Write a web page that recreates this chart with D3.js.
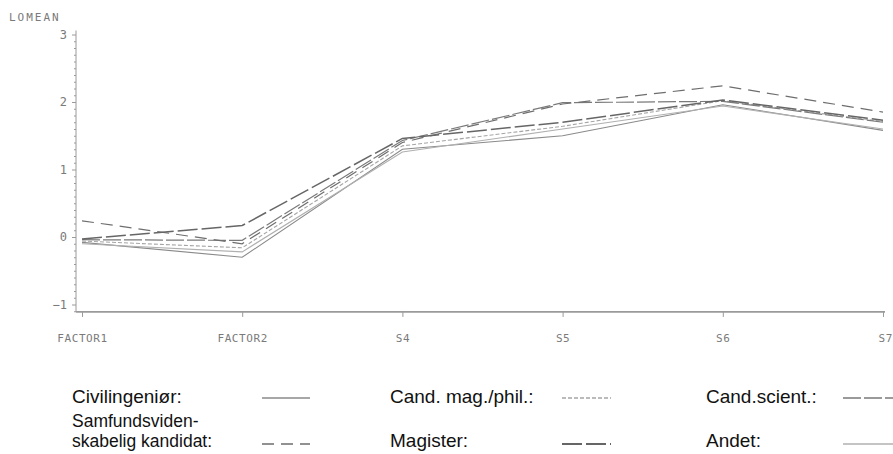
<!DOCTYPE html>
<html>
<head>
<meta charset="utf-8">
<script src="https://cdn.jsdelivr.net/npm/d3@7"></script>
<style>
  html, body { margin: 0; padding: 0; background: #fff; }
  svg { display: block; }
  .axis text { font-family: "DejaVu Sans Mono", monospace; fill: #7a7a7a; }
  .axis path, .axis line { stroke: #9a9a9a; }
  .legend text { font-family: "Liberation Sans", Arial, sans-serif; font-size: 19px; fill: #111; }
</style>
</head>
<body>
<svg id="chart" width="893" height="454"></svg>
<script>
// Categories along the x axis
const categories = ["FACTOR1", "FACTOR2", "S4", "S5", "S6", "S7"];

// Mean values per education group
const civilingenior   = [-0.08, -0.30, 1.30, 1.50, 1.96, 1.58];
const candMagPhil     = [-0.06, -0.16, 1.35, 1.64, 2.02, 1.71];
const candScient      = [-0.04, -0.05, 1.43, 1.99, 2.01, 1.70];
const samfund         = [ 0.24, -0.10, 1.40, 1.97, 2.24, 1.85];
const magister        = [-0.03,  0.17, 1.46, 1.70, 2.03, 1.73];
const andet           = [-0.10, -0.22, 1.26, 1.60, 1.94, 1.60];

// Y axis tick values
const yTicks = [-1, 0, 1, 2, 3];
const yLabel = "LOMEAN";

const seriesNames = ["Civilingeniør:", "Cand. mag./phil.:", "Cand.scient.:",
                     "Samfundsviden-\nskabelig kandidat:", "Magister:", "Andet:"];
const seriesValues = [civilingenior, candMagPhil, candScient, samfund, magister, andet];

// Line styles per series
const styles = [
  { stroke: "#8a8a8a", width: 1.1, dash: null },
  { stroke: "#a5a5a5", width: 1.1, dash: "4,2" },
  { stroke: "#7a7a7a", width: 1.2, dash: "18,3" },
  { stroke: "#6e6e6e", width: 1.2, dash: "12,7" },
  { stroke: "#666666", width: 1.5, dash: "20,4" },
  { stroke: "#b0b0b0", width: 1.1, dash: null }
];

const svg = d3.select("#chart");

const x = d3.scalePoint().domain(categories).range([82, 883]);
const y = d3.scaleLinear().domain([-1, 3]).range([304.5, 34.5]);

const axisLeftX = 76;
const axisBottomY = y(-1.11);

// Minor ticks on y axis
const minor = d3.range(-11, 31).map(v => v / 10).filter(v => !yTicks.includes(Math.round(v * 10) / 10));
svg.append("g")
  .attr("class", "axis")
  .attr("transform", `translate(${axisLeftX},0)`)
  .call(d3.axisLeft(y).tickValues(minor).tickSize(2).tickFormat(""))
  .call(g => g.select(".domain").remove());

// Major y ticks
svg.append("g")
  .attr("class", "axis")
  .attr("transform", `translate(${axisLeftX},0)`)
  .call(d3.axisLeft(y).tickValues(yTicks).tickSize(4).tickPadding(5).tickFormat(d3.format("d")))
  .call(g => g.select(".domain").remove())
  .call(g => g.selectAll("text").style("font-size", "12px"));

// Y axis line
svg.append("line")
  .attr("x1", axisLeftX).attr("x2", axisLeftX)
  .attr("y1", y(3) - 4).attr("y2", axisBottomY)
  .attr("stroke", "#9a9a9a");

// X axis
svg.append("g")
  .attr("class", "axis")
  .attr("transform", `translate(0,${axisBottomY})`)
  .call(d3.axisBottom(x).tickSize(5).tickPadding(17))
  .call(g => g.select(".domain").attr("d", `M${axisLeftX},0H${x("S7") + 2}`).attr("stroke-width", 1.6))
  .call(g => g.selectAll("text")
    .attr("text-anchor", (d, i) => i === categories.length - 1 ? "start" : "middle")
    .attr("dx", (d, i) => i === categories.length - 1 ? -5 : 0)
    .style("font-size", "11px")
    .style("letter-spacing", "0.6px"));

// Y label
svg.append("text")
  .attr("x", 9).attr("y", 21)
  .style("font-family", "DejaVu Sans Mono, monospace")
  .style("font-size", "11px")
  .style("letter-spacing", "2px")
  .style("fill", "#7a7a7a")
  .text(yLabel);

// Series lines
const line = d3.line().x((d, i) => x(categories[i])).y(d => y(d));
svg.append("g")
  .selectAll("path")
  .data(seriesValues)
  .join("path")
  .attr("d", d => line(d))
  .attr("fill", "none")
  .attr("stroke", (d, i) => styles[i].stroke)
  .attr("stroke-width", (d, i) => styles[i].width)
  .attr("stroke-dasharray", (d, i) => styles[i].dash);

// Legend: three columns, two rows
const colX = [72, 390, 706];
const rowY = [403, 447];
const sampleX = [[262, 310], [562, 611], [843, 893]];
const sampleY = [398, 444];
const lineGap = 20;

const legend = svg.append("g").attr("class", "legend");
seriesNames.forEach((name, i) => {
  const col = i % 3, row = Math.floor(i / 3);
  const lines = name.split("\n");
  lines.forEach((ln, k) => {
    legend.append("text")
      .attr("x", colX[col])
      .attr("y", rowY[row] - (lines.length - 1 - k) * lineGap)
      .style("font-size", lines.length > 1 ? "17.5px" : null)
      .text(ln);
  });
  legend.append("line")
    .attr("x1", sampleX[col][0]).attr("x2", sampleX[col][1])
    .attr("y1", sampleY[row]).attr("y2", sampleY[row])
    .attr("stroke", styles[i].stroke)
    .attr("stroke-width", styles[i].width + 0.3)
    .attr("stroke-dasharray", styles[i].dash);
});
</script>
</body>
</html>
